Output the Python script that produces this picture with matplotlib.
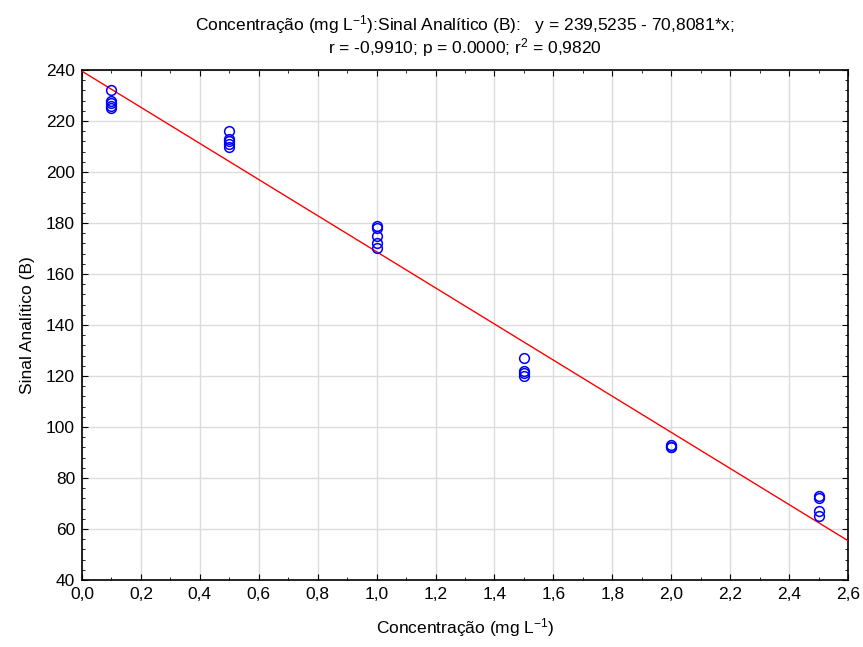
import matplotlib
matplotlib.use("Agg")
import matplotlib.pyplot as plt
import numpy as np
from matplotlib.ticker import MultipleLocator, FuncFormatter

plt.rcParams['font.family'] = ['Liberation Sans', 'DejaVu Sans']
plt.rcParams['mathtext.fontset'] = 'custom'
plt.rcParams['mathtext.rm'] = 'Liberation Sans'
plt.rcParams['mathtext.it'] = 'Liberation Sans'

# Calibration data: concentration (mg/L) and analytical signal (B)
conc_levels = [0.1, 0.5, 1.0, 1.5, 2.0, 2.5]
signal_0_1 = [232, 228, 227, 226, 225]
signal_0_5 = [216, 213, 212, 211, 210]
signal_1_0 = [179, 178, 175, 172, 170]
signal_1_5 = [127, 122, 121, 120]
signal_2_0 = [93, 92, 92]
signal_2_5 = [73, 72, 67, 65]

# Fitted regression coefficients
intercept = 239.5235
slope = -70.8081

signals = [signal_0_1, signal_0_5, signal_1_0, signal_1_5, signal_2_0, signal_2_5]
xs = np.concatenate([[c] * len(s) for c, s in zip(conc_levels, signals)])
ys = np.concatenate(signals)

FS = 12.5

fig = plt.figure(figsize=(8.63, 6.47), dpi=100)
ax = fig.add_axes([82 / 863, 1 - 580 / 647, (848 - 82) / 863, (580 - 70) / 647])

ax.set_xlim(0, 2.6)
ax.set_ylim(40, 240)
ax.xaxis.set_major_locator(MultipleLocator(0.2))
ax.xaxis.set_minor_locator(MultipleLocator(0.1))
ax.yaxis.set_major_locator(MultipleLocator(20))
ax.yaxis.set_minor_locator(MultipleLocator(4))
ax.xaxis.set_major_formatter(FuncFormatter(lambda v, p: f"{v:.1f}".replace('.', ',')))
ax.yaxis.set_major_formatter(FuncFormatter(lambda v, p: f"{v:.0f}"))

ax.grid(True, which='major', color='#dcdcdc', linewidth=1.0)
ax.set_axisbelow(True)
ax.tick_params(which='both', direction='in', top=True, right=True, labelsize=FS, colors='black')
ax.tick_params(which='major', length=4, pad=5)
ax.tick_params(which='minor', length=2)
for sp in ax.spines.values():
    sp.set_linewidth(1.2)
    sp.set_color('black')

xl = np.array([0, 2.6])
ax.plot(xl, intercept + slope * xl, color='red', linewidth=1.0, zorder=3)
ax.plot(xs, ys, linestyle='none', marker='o', markersize=7, markerfacecolor='none',
        markeredgecolor='blue', markeredgewidth=1.1, zorder=4)

ax.set_xlabel('Concentração (mg L$^{\\mathrm{-1}}$)', fontsize=FS, labelpad=10)
ax.set_ylabel('Sinal Analítico (B)', fontsize=FS, labelpad=8)
ax.set_title('Concentração (mg L$^{\\mathrm{-1}}$):Sinal Analítico (B):   y = 239,5235 - 70,8081*x;\n'
             'r = -0,9910; p = 0.0000; r$^{2}$ = 0,9820', fontsize=FS, pad=12, linespacing=1.0)

fig.savefig('out.png', dpi=100)
